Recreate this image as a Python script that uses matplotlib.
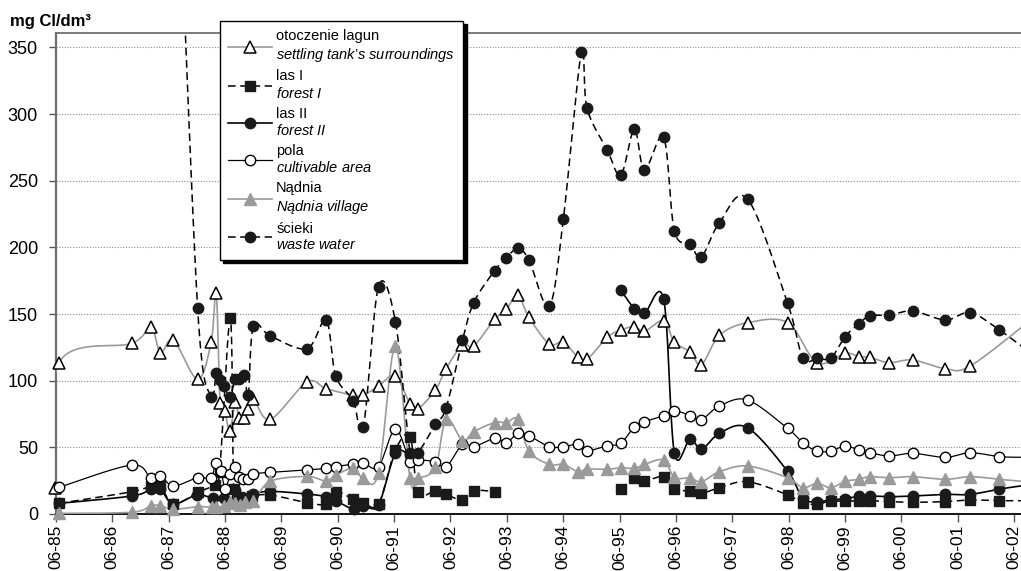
import numpy as np
import matplotlib
matplotlib.use("Agg")
import matplotlib.pyplot as plt
from matplotlib.lines import Line2D

plt.rcParams['font.family'] = ['Liberation Sans', 'DejaVu Sans']
plt.rcParams['mathtext.fontset'] = 'custom'
plt.rcParams['mathtext.rm'] = 'Liberation Sans'
plt.rcParams['mathtext.it'] = 'Liberation Sans:italic'

nan = np.nan

# sampling dates as decimal years, chloride in mg Cl/dm3
lagun_x = [1985.40, 1985.47, 1986.76, 1987.10, 1987.27, 1987.50, 1987.93,
           1988.17, 1988.26, 1988.33, 1988.41, 1988.50, 1988.60, 1988.66, 1988.75, 1988.83, 1988.92,
           1989.22, 1989.87, 1990.21, 1990.69, 1990.87, 1991.14, 1991.44, 1991.70, 1991.84,
           1992.15, 1992.34, 1992.63, 1992.83, 1993.20, 1993.41, 1993.61, 1993.81,
           1994.17, 1994.42, 1994.68, 1994.84, 1995.20, 1995.44, 1995.68, 1995.86,
           1996.20, 1996.39, 1996.67, 1996.87, 1997.19, 1997.69, 1998.40, 1998.92,
           1999.42, 1999.66, 1999.86, 2000.20, 2000.62, 2001.20, 2001.64, 2002.70]
lagun_y = [19.5, 113.5, 128, 140, 121, 130.5, 101,
           129, 165.5, 83, 77.5, 62.5, 84, 72, 72, 79, 86,
           71, 99, 94, 89, 89, 96, 103.5, 82.5, 79,
           93, 109, 127, 126, 146, 153.5, 164, 147.5,
           127.5, 129, 117.5, 116, 132.5, 138, 140.5, 137,
           145, 129, 121.7, 112, 134, 143.5, 143.5, 113.5,
           120.5, 118, 117.5, 113.5, 115.5, 109, 111, 145]

las1_x = [1985.47, 1986.76, 1987.10, 1987.27, 1987.50, 1987.93,
          1988.23, 1988.32, 1988.51, 1988.57, 1988.66, 1988.76, 1988.90,
          1989.22, 1989.87, 1990.21, 1990.39, 1990.69, 1990.87, 1991.14, 1991.44, 1991.70, 1991.84,
          1992.15, 1992.34, 1992.63, 1992.83, 1993.20, nan,
          1995.44, 1995.68, 1995.86, 1996.20, 1996.39, 1996.67, 1996.87, 1997.19, 1997.69,
          1998.40, 1998.67, 1998.92, 1999.17, 1999.42, 1999.66, 1999.86,
          2000.20, 2000.62, 2001.20, 2001.64, 2002.16, 2002.70]
las1_y = [8, 16.7, 21, 21, 7.5, 16.3,
          22, 31.5, 147, 18.7, 13, 11.5, 13.5,
          14.3, 8.5, 7.5, 16.7, 11, 8.5, 7.5, 48, 58, 16.3,
          17.3, 14.7, 10.5, 17.5, 16.7, nan,
          18.7, 26.7, 24.7, 28, 18.7, 17.3, 15.5, 19.7, 24.2,
          14.3, 8, 7.5, 9.7, 9.5, 10, 10,
          9.3, 8.8, 9.3, 10.5, 10, 10]

las2_x = [1985.47, 1986.76, 1987.10, 1987.27, 1987.50, 1987.92,
          1988.21, 1988.39, 1988.50, 1988.60, 1988.69, 1988.77, 1988.92,
          1989.22, 1989.87, 1990.21, 1990.38, 1990.70, 1990.87, 1991.14, 1991.44, 1991.70, 1991.83, nan,
          1995.44, 1995.68, 1995.86, 1996.20, 1996.39, 1996.67, 1996.87, 1997.19, 1997.69,
          1998.40, 1998.67, 1998.92, 1999.17, 1999.42, 1999.66, 1999.86,
          2000.20, 2000.62, 2001.20, 2001.64, 2002.16, 2002.70]
las2_y = [8, 13.5, 18.5, 18.5, 7.5, 14.3,
          11.7, 11.7, 8, 18, 11.7, 12, 15,
          17, 15, 13, 10, 3.5, 6, 7, 45.5, 44, 44, nan,
          168, 154, 150.5, 161, 46, 56.5, 48.5, 60.5, 64.7,
          32, 11.7, 9.3, 10.5, 11.5, 13.2, 13.5,
          13, 13.5, 14.7, 14.7, 18.7, 22]

pola_x = [1985.47, 1986.76, 1987.10, 1987.27, 1987.50, 1987.93,
          1988.17, 1988.25, 1988.34, 1988.42, 1988.51, 1988.60, 1988.67, 1988.74, 1988.83, 1988.91,
          1989.22, 1989.87, 1990.21, 1990.38, 1990.69, 1990.87, 1991.14, 1991.44, 1991.70, 1991.84,
          1992.15, 1992.34, 1992.63, 1992.83, 1993.20, 1993.41, 1993.61, 1993.81,
          1994.17, 1994.42, 1994.68, 1994.84, 1995.20, 1995.44, 1995.68, 1995.86,
          1996.20, 1996.39, 1996.67, 1996.87, 1997.19, 1997.69,
          1998.40, 1998.67, 1998.92, 1999.17, 1999.42, 1999.66, 1999.86,
          2000.20, 2000.62, 2001.20, 2001.64, 2002.16, 2002.70]
pola_y = [20, 36.7, 26.7, 28.7, 21, 27.3,
          27.2, 38.5, 32.5, 19, 30, 35.5, 27.5, 26.5, 26.5, 30,
          31.2, 33, 34.2, 35.5, 37.5, 38, 35.5, 63.7, 39.2, 40.5,
          39.2, 35.3, 52.3, 50.5, 56.7, 53.5, 60.5, 58.7,
          50.5, 50.5, 52.2, 47.5, 51.2, 53, 65.5, 69.2,
          73.7, 77.5, 73.8, 70.8, 81, 85.5,
          64.2, 53.5, 47.2, 47.2, 51, 48, 46,
          43.5, 45.5, 42.5, 46, 43, 42.5]

nadnia_x = [1985.47, 1986.76, 1987.10, 1987.27, 1987.50, 1987.93,
            1988.18, 1988.25, 1988.40, 1988.51, 1988.59, 1988.69, 1988.77, 1988.92,
            1989.22, 1989.87, 1990.21, 1990.38, 1990.69, 1990.87, 1991.14, 1991.44, 1991.70, 1991.84,
            1992.15, 1992.34, 1992.63, 1992.83, 1993.20, 1993.41, 1993.61, 1993.81,
            1994.17, 1994.42, 1994.68, 1994.84, 1995.20, 1995.44, 1995.68, 1995.86,
            1996.20, 1996.39, 1996.67, 1996.87, 1997.19, 1997.69,
            1998.40, 1998.67, 1998.92, 1999.17, 1999.42, 1999.66, 1999.86,
            2000.20, 2000.62, 2001.20, 2001.64, 2002.16, 2002.70]
nadnia_y = [0.5, 1.3, 6.2, 6.2, 3.5, 5.5,
            5, 5, 6, 9, 8, 6.7, 9, 10,
            24.5, 28.2, 24.7, 29.2, 34.2, 26.7, 31, 126, 26.7, 26.7,
            35, 71.3, 55, 61.7, 68.6, 68.5, 71, 47.2,
            37.2, 37.2, 31.7, 33.7, 33.5, 34.7, 34.2, 37.2,
            40.5, 27.5, 27, 24.2, 31.7, 36,
            27.2, 19.7, 23, 19.7, 24.5, 26, 28,
            27.2, 28, 26, 28, 26, 24]

scieki_x = [1987.58, 1987.93,
            1988.17, 1988.26, 1988.33, 1988.40, 1988.50, 1988.60, 1988.67, 1988.76, 1988.83, 1988.92,
            1989.22, 1989.87, 1990.21, 1990.38, 1990.69, 1990.87, 1991.14, 1991.44, 1991.70, 1991.84,
            1992.15, 1992.34, 1992.63, 1992.83, 1993.20, 1993.41, 1993.61, 1993.81,
            1994.17, 1994.42, 1994.74, 1994.84, 1995.20, 1995.44, 1995.68, 1995.86,
            1996.20, 1996.39, 1996.67, 1996.87, 1997.19, 1997.69,
            1998.40, 1998.67, 1998.92, 1999.17, 1999.42, 1999.66, 1999.86,
            2000.20, 2000.62, 2001.20, 2001.64, 2002.16, 2002.70]
scieki_y = [500, 154.3,
            88, 106, 100.5, 96, 88, 101.5, 101.5, 104, 89, 141,
            133.5, 124, 145.5, 103.7, 85, 65, 170.5, 144.3, 46, 46,
            67.2, 79.7, 130.3, 158.5, 182.5, 192.2, 199.2, 190.5,
            156, 221.2, 346.5, 304.2, 273, 254.2, 288.5, 258,
            282.5, 212.5, 202.2, 193, 218.5, 236.2,
            158, 117.2, 116.7, 117.2, 133, 142.5, 148.6,
            149.2, 152.2, 145.5, 151, 138, 121]

tick_years = list(range(1985, 2003))
tick_labels = ['06-%02d' % (y % 100) for y in tick_years]

labels = [
    'otoczenie lagun\n$\\mathit{settling\\ tank\u2019s\\ surroundings}$',
    'las I\n$\\mathit{forest\\ I}$',
    'las II\n$\\mathit{forest\\ II}$',
    'pola\n$\\mathit{cultivable\\ area}$',
    'N\u0105dnia\n$\\mathit{N\u0105dnia\\ village}$',
    '\u015bcieki\n$\\mathit{waste\\ water}$',
]


def smooth(x, y, n=20):
    """Bezier smoothing through the points, split at nan gaps."""
    x = np.asarray(x, float)
    y = np.asarray(y, float)
    ok = ~np.isnan(x)
    out_x, out_y = [], []
    idx = np.where(ok)[0]
    groups = np.split(idx, np.where(np.diff(idx) > 1)[0] + 1)
    for g in groups:
        p = np.column_stack([x[g], y[g]])
        if len(p) < 2:
            continue
        P = np.vstack([p[0], p, p[-1]])
        t = np.linspace(0, 1, n)[:, None]
        for i in range(1, len(P) - 2):
            p0, p1, p2, p3 = P[i - 1], P[i], P[i + 1], P[i + 2]
            c1 = p1 + (p2 - p0) / 6
            c2 = p2 - (p3 - p1) / 6
            seg = ((1 - t) ** 3) * p1 + 3 * ((1 - t) ** 2) * t * c1 + 3 * (1 - t) * t ** 2 * c2 + t ** 3 * p2
            out_x.extend(seg[:, 0]); out_y.extend(seg[:, 1])
        out_x.append(nan); out_y.append(nan)
    return np.array(out_x), np.array(out_y)


fig = plt.figure(figsize=(10.21, 5.71), dpi=100)
ax = fig.add_axes([56 / 1021, 57 / 571, 1 - 56 / 1021, (514 - 33) / 571])

x0 = 1985 + 5 / 12
ax.set_xlim(x0, x0 + 965 / 56.35)
ax.set_ylim(0, 481 / 1.3333)

grey = '#9a9a9a'
dash = (0, (5, 3))
series = [
    (lagun_x, lagun_y, dict(color=grey, lw=1.2, ls='-'),
     dict(marker='^', ms=8, mfc='white', mec='black', mew=1.1)),
    (las1_x, las1_y, dict(color='black', lw=1.1, ls=dash),
     dict(marker='s', ms=7, mfc='#1a1a1a', mec='#1a1a1a', mew=1)),
    (las2_x, las2_y, dict(color='black', lw=1.2, ls='-'),
     dict(marker='o', ms=7.5, mfc='#1a1a1a', mec='#1a1a1a', mew=1)),
    (pola_x, pola_y, dict(color='black', lw=0.9, ls='-'),
     dict(marker='o', ms=7.5, mfc='white', mec='black', mew=1)),
    (nadnia_x, nadnia_y, dict(color=grey, lw=1.2, ls='-'),
     dict(marker='^', ms=8, mfc=grey, mec=grey, mew=1)),
    (scieki_x, scieki_y, dict(color='black', lw=1.1, ls=dash),
     dict(marker='o', ms=7.5, mfc='#1a1a1a', mec='#1a1a1a', mew=1)),
]

handles = []
for k, (xs, ys, lst, mst) in enumerate(series):
    sx, sy = smooth(xs, ys)
    ax.plot(sx, sy, zorder=3 + k * 0.1, **lst)
    xa = np.asarray(xs, float)
    ya = np.asarray(ys, float)
    vis = ya <= 360
    ax.plot(xa[vis], ya[vis], ls='none', zorder=4 + k * 0.1, clip_on=False, **mst)
    handles.append(Line2D([], [], **lst, **mst))

ax.set_yticks(range(0, 351, 50))
ax.set_xticks([y + 5 / 12 for y in tick_years])
ax.set_xticklabels(tick_labels, rotation=90)
ax.tick_params(axis='y', labelsize=13, length=5, width=1, color='#555555', pad=8)
ax.tick_params(axis='x', labelsize=12.5, length=6, width=1, color='#555555', pad=2)
ax.yaxis.grid(True, ls=(0, (1, 1.5)), color='#8c8c8c', lw=0.8)
ax.set_axisbelow(True)

ax.spines['right'].set_visible(False)
ax.spines['left'].set_color('#6e6e6e')
ax.spines['left'].set_linewidth(1.6)
ax.spines['top'].set_color('#6e6e6e')
ax.spines['top'].set_linewidth(1.3)
ax.spines['bottom'].set_color('black')
ax.spines['bottom'].set_linewidth(1.3)

fig.text(10 / 1021, 1 - 26 / 571, 'mg Cl/dm\u00b3', fontsize=12, fontweight='bold', va='baseline')

leg = fig.legend(handles, labels, loc='upper left', bbox_to_anchor=(220 / 1021, 1 - 21 / 571),
                 bbox_transform=fig.transFigure, borderaxespad=0, fontsize=10.5, numpoints=1,
                 handlelength=3.0, handletextpad=0.3, labelspacing=0.4, borderpad=0.55,
                 frameon=True, fancybox=False, framealpha=1,
                 shadow={'ox': 2.5, 'oy': -2.5, 'facecolor': 'black', 'edgecolor': 'black', 'alpha': 1})
leg.get_frame().set_edgecolor('black')
leg.get_frame().set_linewidth(1.0)

fig.savefig('out.png', dpi=100)
